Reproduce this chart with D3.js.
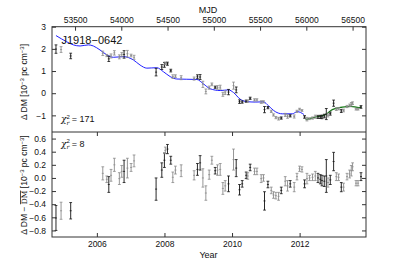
<!DOCTYPE html>
<html>
<head>
<meta charset="utf-8">
<script src="https://cdn.jsdelivr.net/npm/d3@7/dist/d3.min.js"></script>
<style>
html,body{margin:0;padding:0;background:#fff;}
svg{display:block;font-family:"Liberation Sans",Arial,Helvetica,sans-serif;}
</style>
</head>
<body>
<svg id="chart" width="407" height="265"></svg>
<script>
// ---- data ----
const mjd = [53294,53349,53453,53800,53843,53865,53889,53925,53979,54005,54030,54066,54106,54138,
  54376,54438,54466,54476,54499,54535,54557,54585,54647,54787,54823,54852,54882,54914,54950,54979,
  55015,55040,55069,55098,55123,55159,55213,55242,55278,55307,55350,55367,55393,55440,55466,55512,
  55537,55548,55585,55621,55645,55671,55700,55729,55772,55797,55826,55869,55899,55927,55953,55981,
  56007,56035,56067,56097,56126,56151,56169,56194,56216,56234,56259,56295,56324,56349,56378,56403,
  56440,56468,56486,56500,56537,56559,56591];
const dm = [1.99,1.97,1.68,1.80,1.70,1.55,1.68,1.82,1.64,1.74,1.75,1.78,1.70,1.62,
  0.95,1.18,1.28,1.35,1.33,1.02,0.75,0.77,0.70,0.66,0.74,0.73,0.40,0.08,0.25,0.40,
  0.27,0.26,0.27,-0.05,0.02,0.05,0.34,0.15,-0.38,-0.40,-0.36,-0.36,-0.23,-0.30,-0.30,-0.40,
  -0.39,-0.74,-0.65,-0.82,-0.98,-1.10,-1.15,-1.12,-0.98,-1.05,-1.02,-1.05,-0.82,-0.72,-0.78,-1.07,
  -1.17,-1.15,-1.12,-1.06,-1.07,-1.07,-1.07,-1.03,-0.94,-1.00,-0.92,-0.45,-0.72,-0.70,-0.80,-0.78,
  -0.60,-0.55,-0.50,-0.45,-0.72,-0.72,-0.62];
const resid = [-0.61,-0.50,-0.50,0.07,-0.02,-0.10,0.04,0.20,-0.01,0.10,0.10,0.15,0.16,0.26,
  -0.17,0.12,0.27,0.42,0.44,0.27,0.01,0.12,0.11,0.04,0.13,0.23,0.00,-0.23,0.05,0.27,
  0.11,0.12,0.13,-0.16,-0.12,-0.09,0.28,0.15,-0.18,-0.09,0.04,0.03,0.16,0.10,0.10,-0.01,
  0.00,-0.35,-0.10,-0.19,-0.26,-0.27,-0.28,-0.19,-0.05,-0.12,-0.09,-0.14,0.02,0.14,0.13,-0.09,
  -0.01,0.00,0.01,0.03,0.00,-0.02,-0.04,-0.05,0.03,-0.07,-0.03,0.25,0.02,0.01,-0.14,-0.14,
  0.02,0.06,0.11,0.17,-0.08,-0.08,0.02];
const err = [0.19,0.13,0.125,0.10,0.05,0.12,0.09,0.10,0.09,0.09,0.17,0.15,0.06,0.09,
  0.17,0.11,0.11,0.05,0.07,0.06,0.08,0.06,0.09,0.07,0.09,0.11,0.14,0.11,0.07,0.06,
  0.05,0.08,0.09,0.09,0.08,0.12,0.16,0.13,0.08,0.05,0.05,0.05,0.05,0.05,0.05,0.06,
  0.05,0.14,0.05,0.05,0.05,0.05,0.06,0.05,0.07,0.08,0.05,0.07,0.05,0.04,0.04,0.06,
  0.08,0.04,0.05,0.07,0.07,0.07,0.08,0.08,0.25,0.07,0.07,0.14,0.06,0.05,0.07,0.06,
  0.05,0.06,0.08,0.06,0.04,0.04,0.06];
// 1 = dark (black) error bar, 0 = grey
const dark = [1,0,1,0,0,1,0,0,0,0,1,0,0,0,
  1,1,1,0,1,1,0,0,0,0,1,1,0,0,0,0,
  1,0,0,0,0,1,0,1,1,1,1,0,1,0,0,0,
  0,1,1,0,0,0,0,1,0,0,1,0,0,0,0,1,
  0,0,0,0,1,1,1,1,1,0,1,1,0,0,1,0,
  0,0,0,0,0,0,1];
const modelMjd = [53294,53410,53482,53554,53644,53698,53770,53843,53914,54023,54131,54203,54276,54384,
  54455,54528,54600,54708,54817,54888,54961,55069,55159,55213,55285,55358,55447,55537,55591,55664,
  55740,55848,55902,55974];
const modelDm = [2.6,2.32,2.18,2.13,2.18,2.13,1.95,1.73,1.62,1.65,1.5,1.27,1.13,1.15,
  0.97,0.75,0.64,0.63,0.62,0.42,0.2,0.12,0.15,0.03,-0.27,-0.38,-0.4,-0.39,-0.57,-0.83,
  -0.93,-0.93,-0.83,-0.96];
const model2Mjd = [55992,56100,56208,56281,56389,56479,56569,56594];
const model2Dm = [-1.19,-1.08,-0.96,-0.74,-0.63,-0.59,-0.65,-0.63];
const mjdTicks = [53500,54000,54500,55000,55500,56000,56500];
const yearTicks = [2006,2008,2010,2012];
const topTicks = [-1,0,1,2,3];
const botTicks = [-0.8,-0.6,-0.4,-0.2,0.0,0.2,0.4,0.6];

// ---- layout ----
const svg = d3.select("#chart");
const L = 52, R = 366, T = 26.7, M = 132, B = 237;
const x = d3.scaleLinear().domain([53251, 56645]).range([L, R]);
const yT = d3.scaleLinear().domain([-1.75, 3]).range([M, T]);
const yB = d3.scaleLinear().domain([-0.9, 0.7]).range([B, M]);
const yearToMjd = y => 51544.5 + (y - 2000) * 365.25;
const frameCol = "#333", tickLen = 4;

// model lines
const line = d3.line().curve(d3.curveMonotoneX);
svg.append("path")
  .attr("d", line(modelMjd.map((m, i) => [x(m), yT(modelDm[i])])))
  .attr("fill", "none").attr("stroke", "#2020ff").attr("stroke-width", 1);
svg.append("path")
  .attr("d", line(model2Mjd.map((m, i) => [x(m), yT(model2Dm[i])])))
  .attr("fill", "none").attr("stroke", "#1a7a1a").attr("stroke-width", 1.2);

// error bars
function errBars(yScale, vals) {
  const g = svg.append("g");
  mjd.forEach((m, i) => {
    const cx = x(m), y0 = yScale(vals[i] - err[i]), y1 = yScale(vals[i] + err[i]), yc = yScale(vals[i]);
    const col = dark[i] ? "#111" : "#8a8a8a";
    const w = 1.4;
    g.append("line").attr("x1", cx).attr("x2", cx).attr("y1", y0).attr("y2", y1)
      .attr("stroke", col).attr("stroke-width", 0.9);
    [y0, y1].forEach(yy => g.append("line").attr("x1", cx - w).attr("x2", cx + w)
      .attr("y1", yy).attr("y2", yy).attr("stroke", col).attr("stroke-width", 0.8));
    g.append("line").attr("x1", cx - 1).attr("x2", cx + 1).attr("y1", yc).attr("y2", yc)
      .attr("stroke", col).attr("stroke-width", 0.8);
  });
}
errBars(yT, dm);
errBars(yB, resid);

// frames
svg.append("rect").attr("x", L).attr("y", T).attr("width", R - L).attr("height", B - T)
  .attr("fill", "none").attr("stroke", frameCol).attr("stroke-width", 1);
svg.append("line").attr("x1", L).attr("x2", R).attr("y1", M).attr("y2", M)
  .attr("stroke", frameCol).attr("stroke-width", 1);

// axes (ticks inward)
function addAxis(axis, tx, ty) {
  const g = svg.append("g").attr("transform", `translate(${tx},${ty})`).call(axis);
  g.select(".domain").remove();
  g.selectAll(".tick line").attr("stroke", frameCol);
  g.selectAll(".tick text").attr("font-size", "8.5px").attr("fill", "#111")
    .attr("font-family", '"Liberation Sans",Arial,sans-serif');
  return g;
}
addAxis(d3.axisTop(x).tickValues(mjdTicks).tickSize(-tickLen).tickPadding(4).tickFormat(d3.format("d")), 0, T);
addAxis(d3.axisBottom(x).tickValues(yearTicks.map(yearToMjd)).tickSize(-tickLen).tickPadding(3.5)
  .tickFormat((d, i) => String(yearTicks[i])), 0, B);
addAxis(d3.axisBottom(x).tickValues(yearTicks.map(yearToMjd)).tickSize(tickLen).tickFormat(""), 0, M);
addAxis(d3.axisLeft(yT).tickValues(topTicks).tickSize(-tickLen).tickPadding(tickLen + 2)
  .tickFormat(d3.format("d")), L, 0);
addAxis(d3.axisRight(yT).tickValues(topTicks).tickSize(-tickLen).tickFormat(""), R, 0);
addAxis(d3.axisLeft(yB).tickValues(botTicks).tickSize(-tickLen).tickPadding(tickLen + 2)
  .tickFormat(d3.format(".1f")), L, 0);
addAxis(d3.axisRight(yB).tickValues(botTicks).tickSize(-tickLen).tickFormat(""), R, 0);

// axis titles
svg.append("text").attr("x", 208).attr("y", 12.5).attr("text-anchor", "middle")
  .attr("font-size", "9px").attr("fill", "#111").text("MJD");
svg.append("text").attr("x", 208.5).attr("y", 257.5).attr("text-anchor", "middle")
  .attr("font-size", "9px").attr("fill", "#111").text("Year");

function yLabel(cy, withBar) {
  const t = svg.append("text").attr("transform", `translate(27,${cy}) rotate(-90)`)
    .attr("text-anchor", "middle").attr("font-size", "8.5px").attr("fill", "#111");
  t.append("tspan").text("Δ DM");
  if (withBar) {
    t.append("tspan").text(" − ");
    t.append("tspan").text("DM").style("text-decoration", "overline")
      .style("font-family", '"DejaVu Serif",serif').style("font-size", "7.5px");
  }
  t.append("tspan").text(" [10");
  t.append("tspan").attr("dy", -3.5).attr("font-size", "6px").text("−3");
  t.append("tspan").attr("dy", 3.5).text(" pc cm");
  t.append("tspan").attr("dy", -3.5).attr("font-size", "6px").text("−3");
  t.append("tspan").attr("dy", 3.5).text("]");
}
yLabel(82, false);
yLabel(185, true);

// annotations
svg.append("text").attr("x", 61.5).attr("y", 43.5).attr("font-size", "11px").attr("fill", "#111")
  .text("J1918−0642");
function chi(xp, yp, val) {
  const t = svg.append("text").attr("x", xp).attr("y", yp).attr("font-size", "9px").attr("fill", "#111");
  t.append("tspan").attr("font-family", '"DejaVu Serif",serif').attr("font-style", "italic").text("χ");
  t.append("tspan").attr("dy", -3.5).attr("font-size", "6px").text("2");
  t.append("tspan").attr("dx", -3.4).attr("dy", 6).attr("font-size", "6px")
    .attr("font-family", '"DejaVu Serif",serif').attr("font-style", "italic").text("r");
  t.append("tspan").attr("dy", -2.5).text(" = " + val);
}
chi(61, 122, 171);
chi(61, 146.5, 8);
</script>
</body>
</html>
